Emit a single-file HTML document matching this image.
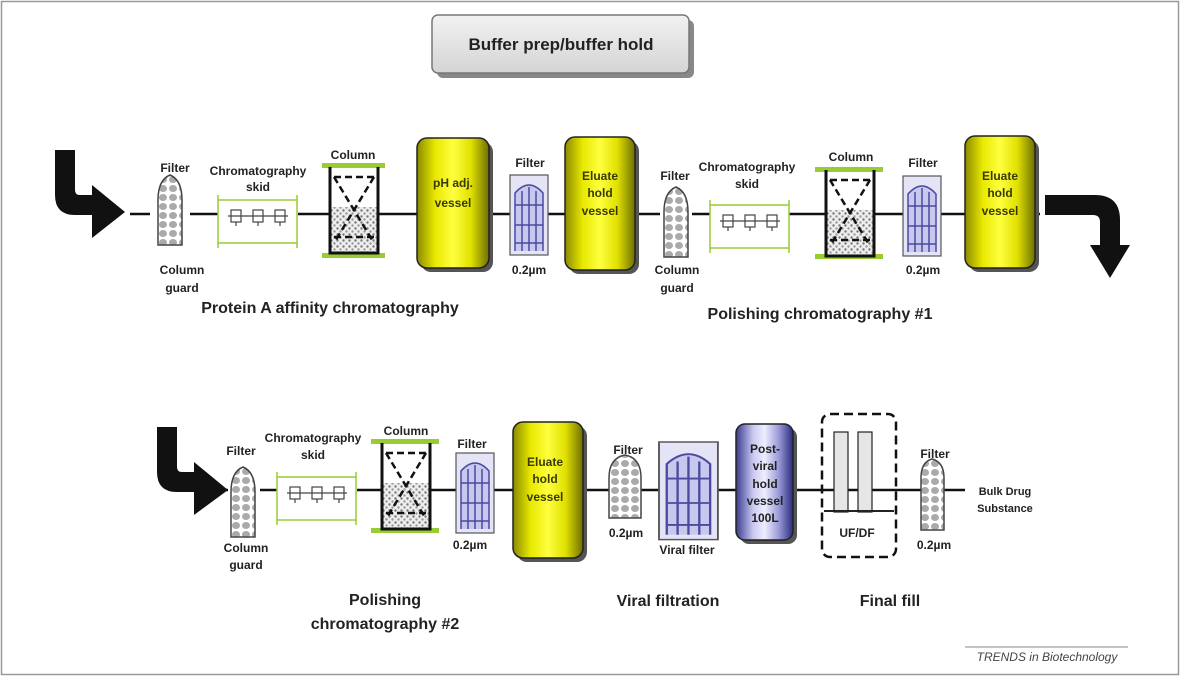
<!DOCTYPE html>
<html><head><meta charset="utf-8"><style>
html,body{margin:0;padding:0;background:#fff}
svg{display:block}
text{font-family:"Liberation Sans",Arial,sans-serif;font-weight:bold;fill:#222;text-anchor:middle}
</style></head><body>
<svg width="1180" height="676" viewBox="0 0 1180 676" xmlns="http://www.w3.org/2000/svg">
<defs>
<linearGradient id="yel" x1="0" x2="1"><stop offset="0" stop-color="#8a8a00"/><stop offset="0.25" stop-color="#e8e800"/><stop offset="0.5" stop-color="#ffff40"/><stop offset="0.75" stop-color="#e0e000"/><stop offset="1" stop-color="#6e6e00"/></linearGradient>
<linearGradient id="blu" x1="0" x2="1"><stop offset="0" stop-color="#3a3a90"/><stop offset="0.3" stop-color="#c8c8f0"/><stop offset="0.5" stop-color="#eeeeff"/><stop offset="0.75" stop-color="#9a9ad8"/><stop offset="1" stop-color="#2a2a80"/></linearGradient>
<linearGradient id="gry" x1="0" x2="0" y1="0" y2="1"><stop offset="0" stop-color="#f2f2f2"/><stop offset="1" stop-color="#d4d4d4"/></linearGradient>
<pattern id="dots" width="6" height="6" patternUnits="userSpaceOnUse"><rect width="6" height="6" fill="#eee"/><circle cx="1.5" cy="1.5" r="1.2" fill="#777"/><circle cx="4.5" cy="4.5" r="1.2" fill="#999"/></pattern>
<pattern id="beads" width="10" height="9" patternUnits="userSpaceOnUse"><rect width="10" height="9" fill="#fff"/><ellipse cx="5" cy="4.5" rx="4" ry="3.5" fill="#aaa"/></pattern>
<g id="guard"><path d="M0,70 L0,25 Q0,5 12,0 Q24,5 24,25 L24,70 Z" fill="url(#beads)" stroke="#444" stroke-width="1.5"/></g>
<g id="skid"><path d="M0,0 V53 M0,48 H79 M79,0 V53 M0,5 H79" stroke="#9c3" stroke-width="1.5" fill="none"/>
<g stroke="#444" stroke-width="1.2" fill="#fff"><rect x="13" y="15" width="10" height="12"/><rect x="35" y="15" width="10" height="12"/><rect x="57" y="15" width="10" height="12"/><path d="M10,21 H70 M18,27 V31 M40,27 V31 M62,27 V31"/></g></g>
<g id="col"><rect x="0" y="40" width="48" height="46" fill="url(#dots)"/><path d="M0,0 V86 H48 V0" fill="none" stroke="#111" stroke-width="3"/><path d="M4,10 H44 M4,10 L44,76 M44,10 L4,76 M4,70 H44" stroke="#111" stroke-width="2.5" stroke-dasharray="7,4" fill="none"/></g>
<g id="bf"><rect x="0" y="0" width="38" height="80" fill="#e4e4f6" stroke="#555" stroke-width="1.2"/><path d="M5,76 V18 Q19,2 33,18 V76" fill="#c8c8ee" stroke="#4a4aa0" stroke-width="1.5"/><path d="M12,76 V16 M19,76 V12 M26,76 V16 M5,30 H33 M5,50 H33 M5,68 H33" stroke="#4a4aa0" stroke-width="1.5" fill="none"/></g>
</defs>
<rect x="1.5" y="1.5" width="1177" height="673" fill="#fff" stroke="#999" stroke-width="1.5"/>
<!-- header -->
<rect x="437" y="20" width="257" height="58" rx="6" fill="#888"/>
<rect x="432" y="15" width="257" height="58" rx="6" fill="url(#gry)" stroke="#777" stroke-width="1.5"/>
<text x="561" y="50" font-size="17">Buffer prep/buffer hold</text>
<!-- row 1 -->
<line x1="130" y1="214" x2="1040" y2="214" stroke="#111" stroke-width="2.5"/>
<path d="M55,150 H75 V190 Q75,195 80,195 H92 V185 L125,212 L92,238 V215 H75 Q55,215 55,195 Z" fill="#111"/>
<path d="M1045,195 H1095 Q1120,195 1120,220 V245 H1130 L1110,278 L1090,245 H1100 V222 Q1100,215 1093,215 H1045 Z" fill="#111"/>
<rect x="150" y="168" width="40" height="80" fill="#fff"/>
<use href="#guard" x="158" y="175"/>
<text x="175" y="172" font-size="12">Filter</text>
<text x="182" y="274" font-size="12">Column</text><text x="182" y="292" font-size="12">guard</text>
<rect x="218" y="195" width="80" height="53" fill="#fff"/><use href="#skid" x="218" y="195"/>
<text x="258" y="175" font-size="12">Chromatography</text><text x="258" y="191" font-size="12">skid</text>
<rect x="322" y="163" width="63" height="5" fill="#9c3"/><rect x="322" y="253" width="63" height="5" fill="#9c3"/>
<use href="#col" x="330" y="167"/>
<text x="353" y="159" font-size="12">Column</text>
<rect x="421" y="142" width="72" height="130" rx="10" fill="#555"/>
<rect x="417" y="138" width="72" height="130" rx="10" fill="url(#yel)" stroke="#222" stroke-width="1.5"/>
<text x="453" y="187" font-size="12" style="fill:#3a3a00">pH adj.</text><text x="453" y="207" font-size="12" style="fill:#3a3a00">vessel</text>
<use href="#bf" x="510" y="175"/>
<text x="530" y="167" font-size="12">Filter</text><text x="529" y="274" font-size="12">0.2µm</text>
<rect x="569" y="141" width="70" height="133" rx="10" fill="#555"/>
<rect x="565" y="137" width="70" height="133" rx="10" fill="url(#yel)" stroke="#222" stroke-width="1.5"/>
<text x="600" y="180" font-size="12" style="fill:#3a3a00">Eluate</text><text x="600" y="197" font-size="12" style="fill:#3a3a00">hold</text><text x="600" y="215" font-size="12" style="fill:#3a3a00">vessel</text>
<rect x="660" y="180" width="32" height="80" fill="#fff"/>
<use href="#guard" x="664" y="187"/>
<text x="675" y="180" font-size="12">Filter</text>
<text x="677" y="274" font-size="12">Column</text><text x="677" y="292" font-size="12">guard</text>
<rect x="710" y="200" width="79" height="50" fill="#fff"/><use href="#skid" x="710" y="200"/>
<text x="747" y="171" font-size="12">Chromatography</text><text x="747" y="188" font-size="12">skid</text>
<rect x="815" y="167" width="68" height="5" fill="#9c3"/><rect x="815" y="254" width="68" height="5" fill="#9c3"/>
<use href="#col" x="826" y="170"/>
<text x="851" y="161" font-size="12">Column</text>
<use href="#bf" x="903" y="176"/>
<text x="923" y="167" font-size="12">Filter</text><text x="923" y="274" font-size="12">0.2µm</text>
<rect x="969" y="140" width="70" height="132" rx="10" fill="#555"/>
<rect x="965" y="136" width="70" height="132" rx="10" fill="url(#yel)" stroke="#222" stroke-width="1.5"/>
<text x="1000" y="180" font-size="12" style="fill:#3a3a00">Eluate</text><text x="1000" y="197" font-size="12" style="fill:#3a3a00">hold</text><text x="1000" y="215" font-size="12" style="fill:#3a3a00">vessel</text>
<text x="330" y="313" font-size="16">Protein A affinity chromatography</text>
<text x="820" y="319" font-size="16">Polishing chromatography #1</text>
<!-- row 2 -->
<line x1="205" y1="490" x2="965" y2="490" stroke="#111" stroke-width="2.5"/>
<path d="M157,427 H177 V467 Q177,472 182,472 H194 V462 L228,490 L194,515 V492 H177 Q157,492 157,472 Z" fill="#111"/>
<rect x="228" y="460" width="32" height="82" fill="#fff"/>
<use href="#guard" x="231" y="467"/>
<text x="241" y="455" font-size="12">Filter</text>
<text x="246" y="552" font-size="12">Column</text><text x="246" y="569" font-size="12">guard</text>
<rect x="277" y="472" width="80" height="53" fill="#fff"/><use href="#skid" x="277" y="472"/>
<text x="313" y="442" font-size="12">Chromatography</text><text x="313" y="459" font-size="12">skid</text>
<rect x="371" y="439" width="68" height="5" fill="#9c3"/><rect x="371" y="528" width="68" height="5" fill="#9c3"/>
<use href="#col" x="382" y="443"/>
<text x="406" y="435" font-size="12">Column</text>
<use href="#bf" x="456" y="453"/>
<text x="472" y="448" font-size="12">Filter</text><text x="470" y="549" font-size="12">0.2µm</text>
<rect x="517" y="426" width="70" height="136" rx="10" fill="#555"/>
<rect x="513" y="422" width="70" height="136" rx="10" fill="url(#yel)" stroke="#222" stroke-width="1.5"/>
<text x="545" y="466" font-size="12" style="fill:#3a3a00">Eluate</text><text x="545" y="483" font-size="12" style="fill:#3a3a00">hold</text><text x="545" y="501" font-size="12" style="fill:#3a3a00">vessel</text>
<path d="M609,518 V478 Q609,458 625,455 Q641,458 641,478 V518 Z" fill="url(#beads)" stroke="#444" stroke-width="1.5"/>
<text x="628" y="454" font-size="12">Filter</text><text x="626" y="537" font-size="12">0.2µm</text>
<g transform="translate(659,442) scale(1.55,1.22)"><use href="#bf"/></g>
<text x="687" y="554" font-size="12">Viral filter</text>
<rect x="740" y="428" width="57" height="116" rx="9" fill="#555"/>
<rect x="736" y="424" width="57" height="116" rx="9" fill="url(#blu)" stroke="#222" stroke-width="1.5"/>
<text x="765" y="453" font-size="12">Post-</text><text x="765" y="470" font-size="12">viral</text><text x="765" y="488" font-size="12">hold</text><text x="765" y="505" font-size="12">vessel</text><text x="765" y="522" font-size="12">100L</text>
<rect x="822" y="414" width="74" height="143" rx="8" fill="none" stroke="#111" stroke-width="2.5" stroke-dasharray="9,5"/>
<rect x="834" y="432" width="14" height="80" fill="#e6e6e6" stroke="#222" stroke-width="1.2"/>
<rect x="858" y="432" width="14" height="80" fill="#e6e6e6" stroke="#222" stroke-width="1.2"/>
<rect x="824" y="510" width="70" height="2" fill="#222"/>
<text x="857" y="537" font-size="12">UF/DF</text>
<path d="M921,530 V478 Q921,462 932,459 Q944,462 944,478 V530 Z" fill="url(#beads)" stroke="#444" stroke-width="1.5"/>
<text x="935" y="458" font-size="12">Filter</text><text x="934" y="549" font-size="12">0.2µm</text>
<text x="1005" y="495" font-size="11">Bulk Drug</text><text x="1005" y="512" font-size="11">Substance</text>
<text x="385" y="605" font-size="16">Polishing</text><text x="385" y="629" font-size="16">chromatography #2</text>
<text x="668" y="606" font-size="16">Viral filtration</text>
<text x="890" y="606" font-size="16">Final fill</text>
<line x1="965" y1="647" x2="1128" y2="647" stroke="#888" stroke-width="1"/>
<text x="1047" y="661" font-size="12" style="font-weight:normal;font-style:italic;fill:#444">TRENDS in Biotechnology</text>
</svg>
</body></html>
